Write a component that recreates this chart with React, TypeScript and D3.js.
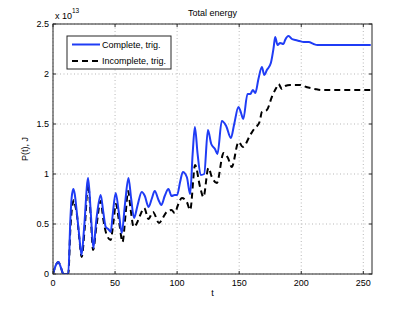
import React from "react";
import * as d3 from "d3";

// time (t) and energy (x 1e13 J)
const completeT = [0, 2, 4.3, 6.5, 8.3, 12.3, 14, 15, 16.4, 17.5, 19, 21, 23, 25, 28.3, 30.5, 32.5, 35, 38.4, 40.5, 42.5, 44.5, 46.5, 48, 50.5, 53, 55.4, 58, 60.8, 63, 65.3, 68, 71.5, 74, 77, 79.5, 82, 85, 87.3, 90, 93, 95.5, 98, 100, 102.4, 104.6, 107.8, 110.5, 112.5, 114.3, 116.5, 119, 121.8, 124.8, 127.5, 130.5, 132.5, 136, 139.5, 143.3, 146, 149.4, 151, 153.3, 156.7, 159, 161, 163, 165.5, 168.3, 170.2, 172.3, 175.5, 177.7, 179, 180.9, 183, 185.7, 187, 189.8, 192.5, 195.2, 198.6, 202, 206, 210, 213, 220, 256];
const completeP = [0, 0.08, 0.12, 0.06, 0, 0, 0.55, 0.76, 0.85, 0.8, 0.64, 0.4, 0.19, 0.45, 0.96, 0.6, 0.26, 0.55, 0.79, 0.62, 0.47, 0.45, 0.42, 0.58, 0.81, 0.62, 0.41, 0.7, 0.96, 0.75, 0.56, 0.68, 0.82, 0.78, 0.67, 0.75, 0.83, 0.74, 0.69, 0.78, 0.85, 0.78, 0.79, 0.79, 0.92, 1.02, 0.97, 0.8, 1.2, 1.47, 1.2, 0.99, 1.0, 1.44, 1.3, 1.25, 1.2, 1.53, 1.48, 1.36, 1.5, 1.67, 1.63, 1.55, 1.8, 1.8, 1.84, 1.81, 1.95, 2.07, 1.99, 2.04, 2.11, 2.26, 2.37, 2.29, 2.31, 2.3, 2.34, 2.38, 2.35, 2.34, 2.33, 2.32, 2.32, 2.3, 2.29, 2.29, 2.29];

const incompleteT = [0, 2, 4.3, 6.5, 8.3, 12.3, 14, 15.5, 16.9, 18, 19.2, 21, 23.1, 25.5, 28.3, 30.5, 32.3, 35, 38.4, 40.5, 43, 46.5, 48.5, 50.7, 53.5, 56, 58.5, 60.5, 62.5, 65, 68, 70, 73.5, 76.9, 80.5, 85.5, 88, 91.5, 95.5, 98, 101, 103.8, 107.8, 110.5, 114.5, 118.5, 121.2, 125.2, 128, 132, 137.4, 141, 144, 149.5, 153, 158.9, 162, 166.4, 168.3, 172.3, 176.3, 179.8, 181.7, 184.4, 187, 191, 195, 199, 204, 211, 216, 256];
const incompleteP = [0, 0.08, 0.12, 0.06, 0, 0, 0.45, 0.68, 0.74, 0.68, 0.6, 0.38, 0.17, 0.45, 0.9, 0.55, 0.24, 0.48, 0.73, 0.55, 0.4, 0.34, 0.5, 0.7, 0.5, 0.32, 0.6, 0.83, 0.65, 0.47, 0.52, 0.58, 0.66, 0.55, 0.62, 0.51, 0.55, 0.62, 0.64, 0.61, 0.7, 0.76, 0.72, 0.64, 1.09, 0.87, 0.77, 1.06, 0.97, 0.91, 1.21, 1.16, 1.07, 1.32, 1.27, 1.39, 1.45, 1.52, 1.62, 1.64, 1.77, 1.86, 1.9, 1.85, 1.88, 1.89, 1.89, 1.89, 1.87, 1.85, 1.84, 1.84];

const xTicks = [0, 50, 100, 150, 200, 250];
const yTicks = [0, 0.5, 1, 1.5, 2, 2.5];
const yTickLabels = ["0", "0.5", "1", "1.5", "2", "2.5"];

const W = 411;
const H = 309;
const left = 53;
const right = 372;
const top = 24;
const bottom = 274;
const font = "'Liberation Sans', Arial, sans-serif";
const axisColor = "#262626";

const App: React.FC = () => {
  const x = d3.scaleLinear().domain([0, 257]).range([left, right]);
  const y = d3.scaleLinear().domain([0, 2.5]).range([bottom, top]);

  const line = d3
    .line<[number, number]>()
    .x((d) => x(d[0]))
    .y((d) => y(d[1]))
    .curve(d3.curveMonotoneX);

  const complete = completeT.map((t, i) => [t, completeP[i]] as [number, number]);
  const incomplete = incompleteT.map((t, i) => [t, incompleteP[i]] as [number, number]);

  return (
    <svg
      width={W}
      height={H}
      style={{ position: "absolute", left: 0, top: 0, background: "#fff" }}
      fontFamily={font}
    >
      <defs>
        <clipPath id="plot">
          <rect x={left} y={top} width={right - left} height={bottom - top} />
        </clipPath>
      </defs>

      {/* grid */}
      {xTicks.map((t) => (
        <line key={"gx" + t} x1={x(t)} x2={x(t)} y1={top} y2={bottom}
          stroke="#9a9a9a" strokeWidth={0.7} strokeDasharray="1,2.5" />
      ))}
      {yTicks.map((t) => (
        <line key={"gy" + t} x1={left} x2={right} y1={y(t)} y2={y(t)}
          stroke="#9a9a9a" strokeWidth={0.7} strokeDasharray="1,2.5" />
      ))}

      {/* series */}
      <g clipPath="url(#plot)">
        <path d={line(incomplete) ?? ""} fill="none" stroke="#000" strokeWidth={2}
          strokeDasharray="6,4" />
        <path d={line(complete) ?? ""} fill="none" stroke="#1f3cf5" strokeWidth={2} />
      </g>

      {/* box + ticks */}
      <rect x={left} y={top} width={right - left} height={bottom - top}
        fill="none" stroke={axisColor} strokeWidth={1} />
      {xTicks.map((t) => (
        <g key={"tx" + t}>
          <line x1={x(t)} x2={x(t)} y1={bottom} y2={bottom - 3} stroke={axisColor} />
          <line x1={x(t)} x2={x(t)} y1={top} y2={top + 3} stroke={axisColor} />
          <text x={x(t)} y={bottom + 12} fontSize={9} textAnchor="middle" fill="#000">
            {t}
          </text>
        </g>
      ))}
      {yTicks.map((t, i) => (
        <g key={"ty" + t}>
          <line x1={left} x2={left + 3} y1={y(t)} y2={y(t)} stroke={axisColor} />
          <line x1={right} x2={right - 3} y1={y(t)} y2={y(t)} stroke={axisColor} />
          <text x={left - 4} y={y(t) + 3} fontSize={9} textAnchor="end" fill="#000">
            {yTickLabels[i]}
          </text>
        </g>
      ))}

      {/* exponent */}
      <text x={55} y={19} fontSize={9} fill="#000">x 10</text>
      <text x={72} y={13} fontSize={6.5} fill="#000">13</text>

      {/* title and labels */}
      <text x={(left + right) / 2} y={16} fontSize={9} textAnchor="middle" fill="#000">
        Total energy
      </text>
      <text x={(left + right) / 2} y={296} fontSize={9} textAnchor="middle" fill="#000">
        t
      </text>
      <text transform={`translate(28, ${(top + bottom) / 2}) rotate(-90)`}
        fontSize={9} textAnchor="middle" fill="#000">
        P(t), J
      </text>

      {/* legend */}
      <rect x={67} y={36} width={104} height={33} fill="#fff" stroke={axisColor} strokeWidth={1} />
      <line x1={72} x2={100} y1={44.5} y2={44.5} stroke="#1f3cf5" strokeWidth={2} />
      <text x={102} y={47.5} fontSize={9} fill="#000">Complete, trig.</text>
      <line x1={72} x2={100} y1={61} y2={61} stroke="#000" strokeWidth={2} strokeDasharray="6,4" />
      <text x={102} y={64} fontSize={9} fill="#000">Incomplete, trig.</text>
    </svg>
  );
};

export default App;
